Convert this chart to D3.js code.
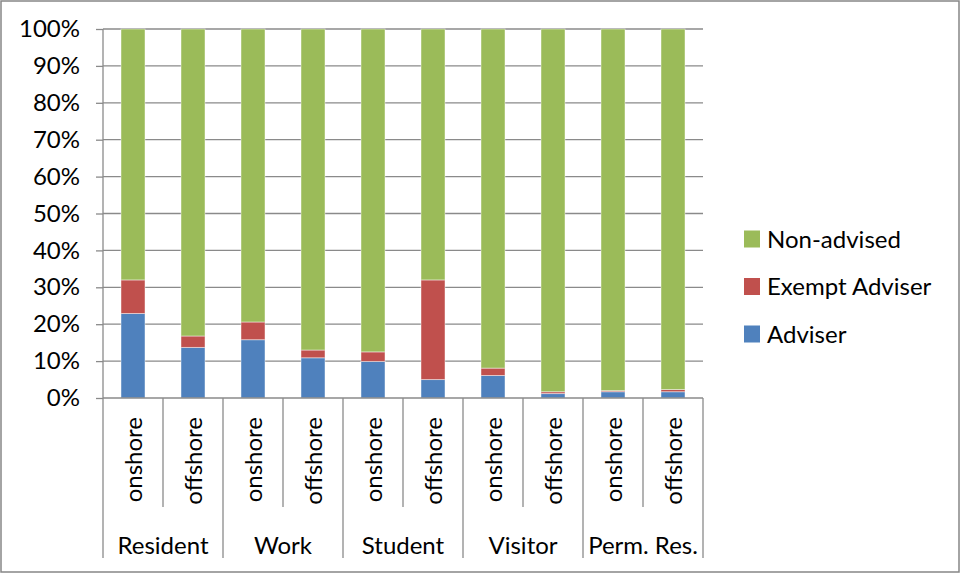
<!DOCTYPE html>
<html>
<head>
<meta charset="utf-8">
<script src="https://cdn.jsdelivr.net/npm/d3@7"></script>
<style>
  html, body { margin: 0; padding: 0; background: #fff; }
  svg { display: block; }
  text { font-family: Lato, "Open Sans", sans-serif; fill: #000; }
</style>
</head>
<body>
<svg id="chart" width="960" height="573"></svg>
<script>
// Visa groups, each split into onshore / offshore applications
const groups = ["Resident", "Work", "Student", "Visitor", "Perm. Res."];
const locations = ["onshore", "offshore"];

// Share of applications (%) per bar, in order: group x location
const adviser    = [22.9, 13.7, 15.8, 10.9, 9.9, 5.0, 6.1, 1.2, 1.7, 1.7];
const exempt     = [9.1, 3.1, 4.8, 2.1, 2.6, 27.0, 2.0, 0.5, 0.3, 0.6];
const nonAdvised = [68.0, 83.2, 79.4, 87.0, 87.5, 68.0, 91.9, 98.3, 98.0, 97.7];

const seriesNames = ["Adviser", "Exempt Adviser", "Non-advised"];
const seriesColors = ["#4F81BD", "#C0504D", "#9BBB59"];
const yTicks = [0, 0.1, 0.2, 0.3, 0.4, 0.5, 0.6, 0.7, 0.8, 0.9, 1.0];

const FONT = 24;

const rows = [];
groups.forEach((g, gi) => {
  locations.forEach((loc, li) => {
    const i = gi * locations.length + li;
    rows.push({
      key: g + "|" + loc, group: g, loc: loc,
      "Adviser": adviser[i],
      "Exempt Adviser": exempt[i],
      "Non-advised": nonAdvised[i]
    });
  });
});

const svg = d3.select("#chart");
const W = 960, H = 573;
const plot = { left: 103, right: 703, top: 29, bottom: 398 };

// outer chart frame
svg.append("rect")
  .attr("x", 1).attr("y", 1).attr("width", W - 2).attr("height", H - 2)
  .attr("fill", "#fff").attr("stroke", "#868686").attr("stroke-width", 1.5);

const x = d3.scaleBand()
  .domain(rows.map(d => d.key))
  .range([plot.left, plot.right])
  .paddingInner(0.6).paddingOuter(0.3);
const step = x.step();

const y = d3.scaleLinear().domain([0, 1]).range([plot.bottom, plot.top]);

// horizontal gridlines
svg.append("g")
  .selectAll("line")
  .data(yTicks.slice(1))
  .join("line")
  .attr("x1", plot.left).attr("x2", plot.right)
  .attr("y1", d => y(d)).attr("y2", d => y(d))
  .attr("stroke", "#8a8a8a").attr("stroke-width", 1.3);

// y axis
const yAxis = d3.axisLeft(y)
  .tickValues(yTicks)
  .tickFormat(d3.format(".0%"))
  .tickSize(7)
  .tickPadding(16);
const gy = svg.append("g")
  .attr("transform", `translate(${plot.left},0)`)
  .call(yAxis);
gy.selectAll("path, line").attr("stroke", "#8a8a8a").attr("stroke-width", 1.3);
gy.select(".domain").attr("d", `M0,${plot.top}V${plot.bottom}`);
gy.selectAll("text").attr("font-size", FONT).attr("font-family", "Lato, sans-serif").attr("fill", "#000");

// stacked bars, normalised to 100%
const stack = d3.stack().keys(seriesNames).offset(d3.stackOffsetExpand);
const stacked = stack(rows);

svg.append("g")
  .selectAll("g")
  .data(stacked)
  .join("g")
  .attr("fill", (d, i) => seriesColors[i])
  .selectAll("rect")
  .data(d => d)
  .join("rect")
  .attr("x", d => x(d.data.key))
  .attr("width", x.bandwidth())
  .attr("y", d => y(d[1]))
  .attr("height", d => y(d[0]) - y(d[1]))
  .attr("stroke", "rgba(255,255,255,0.45)")
  .attr("stroke-width", 1);

// category axis: baseline and separators
const gx = svg.append("g").attr("stroke", "#8a8a8a").attr("stroke-width", 1.3);
gx.append("line")
  .attr("x1", plot.left).attr("x2", plot.right)
  .attr("y1", plot.bottom).attr("y2", plot.bottom);

const boundaries = rows.map((d, i) => ({ pos: x(d.key) - x.step() * x.paddingOuter(), outer: i % 2 === 0 }));
boundaries.push({ pos: plot.right, outer: true });
gx.selectAll("line.sep")
  .data(boundaries)
  .join("line")
  .attr("class", "sep")
  .attr("x1", d => d.pos).attr("x2", d => d.pos)
  .attr("y1", plot.bottom)
  .attr("y2", d => d.outer ? 558 : 507);

// rotated location labels
svg.append("g")
  .selectAll("text")
  .data(rows)
  .join("text")
  .attr("transform", d => `translate(${x(d.key) + x.bandwidth() / 2 + 9},417) rotate(-90)`)
  .attr("text-anchor", "end")
  .attr("font-size", FONT)
  .text(d => d.loc);

// group labels
const groupWidth = step * locations.length;
svg.append("g")
  .selectAll("text")
  .data(groups)
  .join("text")
  .attr("x", (d, i) => plot.left + groupWidth * (i + 0.5))
  .attr("y", 554)
  .attr("text-anchor", "middle")
  .attr("font-size", FONT)
  .text(d => d);

// legend (top entry is the top of the stack)
const legendItems = seriesNames.map((n, i) => ({ name: n, color: seriesColors[i] })).reverse();
const lg = svg.append("g").selectAll("g")
  .data(legendItems)
  .join("g")
  .attr("transform", (d, i) => `translate(744,${239 + i * 47.5})`);
lg.append("rect")
  .attr("x", 0).attr("y", -8.5).attr("width", 16).attr("height", 17)
  .attr("fill", d => d.color);
lg.append("text")
  .attr("x", 23).attr("y", 8.5)
  .attr("font-size", FONT)
  .text(d => d.name);
</script>
</body>
</html>
